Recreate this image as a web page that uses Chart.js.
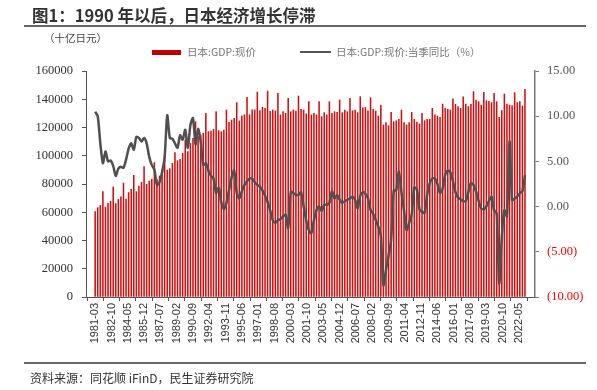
<!DOCTYPE html>
<html>
<head>
<meta charset="utf-8">
<script src="https://cdn.jsdelivr.net/npm/chart.js@4.4.1/dist/chart.umd.min.js"></script>
<style>
  html,body{margin:0;padding:0;background:#fff;}
  body{width:597px;height:390px;position:relative;overflow:hidden;
       font-family:"Noto Sans CJK SC","Noto Sans",sans-serif;}
  #chartWrap{position:absolute;left:0;top:0;width:597px;height:390px;}
  .title{position:absolute;left:32px;top:3px;font-size:16.5px;font-weight:bold;color:#333;white-space:nowrap;}
  .rule{position:absolute;left:24px;width:562px;height:2px;background:#666;}
  .unit{position:absolute;left:44px;top:30px;font-size:10.5px;color:#444;white-space:nowrap;}
  .legend{position:absolute;top:44px;font-size:10.5px;color:#777;white-space:nowrap;}
  .swatch{position:absolute;}
  .source{position:absolute;left:30px;top:369px;font-size:12px;color:#333;white-space:nowrap;}
</style>
</head>
<body>

<div id="chartWrap"><canvas id="chartGdp" width="597" height="390"></canvas></div>

<div class="title">图1：1990 年以后，日本经济增长停滞</div>
<div class="rule" style="top:25px;"></div>
<div class="unit">（十亿日元）</div>

<div class="swatch" style="left:152px;top:50px;width:29px;height:5px;background:#c00000;"></div>
<div class="legend" style="left:187px;">日本:GDP:现价</div>
<div class="swatch" style="left:300px;top:51px;width:31px;height:2px;background:#555;"></div>
<div class="legend" style="left:336px;">日本:GDP:现价:当季同比（%）</div>

<div class="rule" style="top:362px;"></div>
<div class="source">资料来源：同花顺 iFinD，民生证券研究院</div>

<script>
/* ==========================================
   DATA (quarterly, 1981-03 .. 2022-12)
========================================== */
const startYear = 1981;

// 日本:GDP:现价 (十亿日元), Q1..Q4 each row
const gdpNominal = [
  60400, 63300, 64900, 74600,
  63700, 66300, 67700, 77900,
  66100, 69100, 71000, 80700,
  69400, 73900, 76200, 86100,
  74600, 78600, 81200, 92300,
  79800, 82100, 83500, 95200,
  83300, 85700, 89900, 100700,
  89900, 90900, 94600, 102200,
  96500, 97500, 101700, 111200,
  102900, 108800, 112300, 124100,
  113500, 114700, 115900, 130000,
  117100, 117500, 118700, 131200,
  117800, 117000, 118200, 132400,
  123700, 125300, 126500, 137600,
  124700, 128200, 129000, 141400,
  129000, 132500, 132500, 145100,
  131900, 134300, 133600, 145800,
  131500, 132400, 131700, 144200,
  128900, 131200, 130000, 140600,
  131200, 132400, 131700, 142300,
  132900, 132400, 129600, 138300,
  128900, 130000, 128900, 138300,
  127700, 130500, 128900, 138300,
  130000, 131200, 130700, 139500,
  130500, 132400, 131200, 140600,
  131900, 132400, 130500, 141800,
  134000, 134200, 131800, 141100,
  132900, 131700, 128100, 135900,
  121800, 123400, 121300, 130700,
  124100, 124800, 125800, 132400,
  123400, 121800, 123400, 130700,
  125800, 123900, 122500, 130000,
  124800, 125800, 125800, 133600,
  128900, 128100, 127200, 136600,
  133600, 132900, 132400, 140300,
  136400, 134800, 133600, 141800,
  136600, 134800, 136400, 145400,
  139500, 138300, 135900, 144900,
  139000, 138500, 137600, 144200,
  138300, 127200, 131900, 143700,
  136600, 135900, 135500, 144700,
  137600, 138300, 135200, 147000
];

// 日本:GDP:现价:当季同比 (%)
const gdpYoy = [
  10.5, 10.0, 7.0, 4.8, 6.1, 5.0, 5.1, 4.5, 3.4, 4.2,
  4.4, 4.3, 5.2, 6.4, 7.0, 6.3, 7.7, 7.6, 7.2, 7.6,
  7.0, 5.5, 4.6, 4.1, 2.4, 2.7, 3.8, 5.5, 10.1, 7.6,
  7.5, 7.0, 6.5, 7.9, 7.4, 8.5, 6.5, 9.0, 9.8, 6.9,
  8.6, 7.2, 4.6, 4.8, 4.0, 3.4, 3.1, 1.5, 2.1, 0.5,
  -0.3, 0.4, 1.8, 3.2, 4.0, 1.5, 0.9, 1.7, 2.4, 2.8,
  3.1, 3.1, 2.7, 2.4, 2.2, 1.8, 1.2, 0.5, -0.4, -1.5,
  -1.8, -1.5, -1.4, -1.1, -0.9, -2.4, 1.65, 1.5, 1.3, 1.3,
  1.6, 0.0, -1.5, -2.6, -2.95, -1.5, -0.4, 0.0, -0.5, 0.2,
  0.2, 0.4, 1.7, 0.9, 1.3, 0.75, 0.4, 0.6, 0.75, 0.9,
  1.1, 0.75, -0.2, 1.2, 1.6, 1.4, 0.9, -0.4, -0.8, -1.5,
  -2.2, -3.3, -8.7, -7.0, -5.4, -3.7, 1.8, 1.8, 3.9, 1.6,
  -0.4, -2.6, -1.8, -0.8, 2.1, 1.9, -0.3, -0.6, -0.7, 1.3,
  2.6, 3.1, 3.1, 2.5, 1.5, 2.0, 3.5, 4.0, 3.8, 2.8,
  1.6, 1.0, 0.8, 0.6, 0.6, 1.6, 2.6, 2.4, 1.65, 0.6,
  -0.2, -0.3, 0.0, 0.6, 1.1, -0.4, -0.75, -8.5, -3.3, -0.4,
  -1.1, 7.2, 0.7, 0.9, 1.1, 1.5, 1.7, 3.5
];

// x-axis labels, one every 19 months from 1981-03
const xTickLabels = [
  "1981-03","1982-10","1984-05","1985-12","1987-07","1989-02",
  "1990-09","1992-04","1993-11","1995-06","1997-01","1998-08",
  "2000-03","2001-10","2003-05","2004-12","2006-07","2008-02",
  "2009-09","2011-04","2012-11","2014-06","2016-01","2017-08",
  "2019-03","2020-10","2022-05"
];
const xTickStep = 19;

const leftTicks = [0,20000,40000,60000,80000,100000,120000,140000,160000];
const rightTicks = [-10,-5,0,5,10,15];

/* ==========================================
   HELPERS
========================================== */
// month offset of each quarter end counted from 1981-03
const monthIdx = gdpNominal.map((v,i)=>i*3);

function fmtRight(v){

  const s = Math.abs(v).toFixed(2);

  return v < 0 ? "(" + s + ")" : s;

}

/* ==========================================
   CHART
========================================== */
new Chart(
  document.getElementById("chartGdp"),
  {
    data:{
      datasets:[
        {
          type:"line",
          label:"日本:GDP:现价:当季同比（%）",
          data:monthIdx.map((m,i)=>({x:m,y:gdpYoy[i]})),
          yAxisID:"y1",
          borderColor:"#505050",
          borderWidth:2.5,
          pointRadius:0,
          tension:0.25,
          order:1
        },
        {
          type:"bar",
          label:"日本:GDP:现价",
          data:monthIdx.map((m,i)=>({x:m,y:gdpNominal[i]})),
          yAxisID:"y",
          backgroundColor:"#d01010",
          barThickness:0.9,
          order:2
        }
      ]
    },
    options:{
      responsive:false,
      animation:false,
      devicePixelRatio:1,
      layout:{padding:{top:71,left:0,right:0,bottom:0}},
      plugins:{
        legend:{display:false},
        tooltip:{enabled:false}
      },
      scales:{
        x:{
          type:"linear",
          min:-1,
          max:503,
          afterFit:s=>{ s.height = 93; },
          border:{display:true,color:"#555",width:1},
          grid:{drawOnChartArea:false,drawTicks:true,tickLength:4,tickColor:"#555"},
          ticks:{
            stepSize:xTickStep,
            includeBounds:false,
            autoSkip:false,
            minRotation:90,
            maxRotation:90,
            padding:2,
            color:"#333",
            font:{family:"'Liberation Sans', Arial, sans-serif",size:11},
            callback:v=>xTickLabels[Math.round(v/xTickStep)] || ""
          }
        },
        y:{
          position:"left",
          min:leftTicks[0],
          max:leftTicks[leftTicks.length-1],
          afterFit:s=>{ s.width = 86; },
          afterBuildTicks:s=>{ s.ticks = leftTicks.map(v=>({value:v})); },
          border:{display:true,color:"#555",width:1},
          grid:{drawOnChartArea:false,drawTicks:true,tickLength:4,tickColor:"#555"},
          ticks:{
            padding:9,
            color:"#333",
            font:{family:"'Liberation Serif','Times New Roman',serif",size:12.5},
            callback:v=>String(v)
          }
        },
        y1:{
          position:"right",
          min:rightTicks[0],
          max:rightTicks[rightTicks.length-1],
          afterFit:s=>{ s.width = 62; },
          afterBuildTicks:s=>{ s.ticks = rightTicks.map(v=>({value:v})); },
          border:{display:true,color:"#777",width:1.5},
          grid:{drawOnChartArea:false,drawTicks:true,tickLength:4,tickColor:"#777"},
          ticks:{
            padding:8,
            color:c=>c.tick && c.tick.value < 0 ? "#ff0000" : "#555",
            font:{family:"'Liberation Serif','Times New Roman',serif",size:12.5},
            callback:v=>fmtRight(v)
          }
        }
      }
    }
  }
);
</script>
</body>
</html>
